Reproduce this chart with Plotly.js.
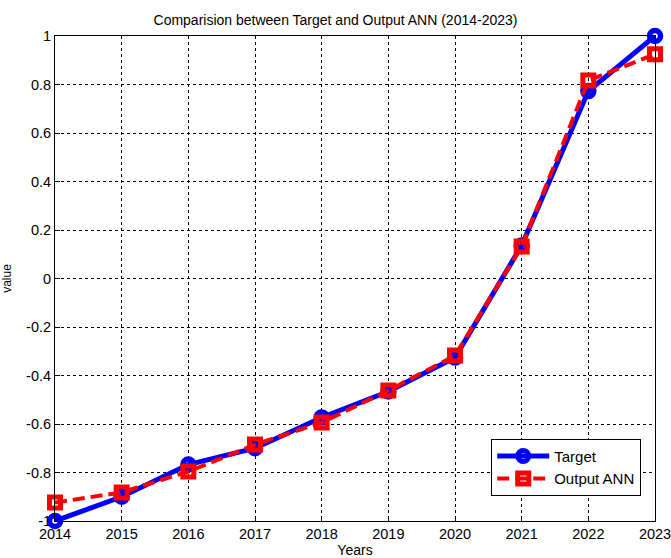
<!DOCTYPE html>
<html>
<head>
<meta charset="utf-8">
<script src="https://cdn.plot.ly/plotly-3.0.1.min.js"></script>
<style>html,body{margin:0;padding:0;background:#fff;}#chart{width:671px;height:558px;}</style>
</head>
<body>
<div id="chart"></div>
<script>
const years = [2014, 2015, 2016, 2017, 2018, 2019, 2020, 2021, 2022, 2023];
const target = [-1.0, -0.90, -0.767, -0.70, -0.573, -0.466, -0.326, 0.136, 0.773, 1.0];
const outputAnn = [-0.924, -0.882, -0.796, -0.685, -0.594, -0.462, -0.318, 0.132, 0.816, 0.925];
const yTicks = [-1, -0.8, -0.6, -0.4, -0.2, 0, 0.2, 0.4, 0.6, 0.8, 1];
const yTickText = ['-1', '-0.8', '-0.6', '-0.4', '-0.2', '0', '0.2', '0.4', '0.6', '0.8', '1'];

const FONT = 'Liberation Sans, Arial, sans-serif';

const data = [
  {
    x: years, y: target, name: 'Target', type: 'scatter', mode: 'lines+markers',
    line: {color: '#0000ff', width: 5},
    marker: {symbol: 'circle-open', size: 11, color: '#0000ff', line: {color: '#0000ff', width: 5.5}},
    cliponaxis: false
  },
  {
    x: years, y: outputAnn, name: 'Output ANN', type: 'scatter', mode: 'lines+markers',
    line: {color: '#ff0000', width: 4, dash: '12px,6px'},
    marker: {symbol: 'square-open', size: 11, color: '#ff0000', line: {color: '#ff0000', width: 5}},
    cliponaxis: false
  }
];

const axisCommon = {
  showline: true, linecolor: '#000', linewidth: 1, mirror: true,
  ticks: 'inside', ticklen: 5, tickcolor: '#000',
  showgrid: true, gridcolor: '#000', gridwidth: 1, griddash: '3px,3px',
  zeroline: false, ticklabeloverflow: 'allow',
  tickfont: {family: FONT, size: 14.5, color: '#000'}
};

const layout = {
  width: 671, height: 558,
  margin: {l: 55, r: 16, t: 36, b: 37},
  paper_bgcolor: '#fff', plot_bgcolor: '#fff',
  title: {text: 'Comparision between Target and Output ANN (2014-2023)',
    font: {family: FONT, size: 14, color: '#000'},
    x: 0.5, xanchor: 'center', y: 1, yref: 'paper', yanchor: 'bottom', pad: {b: 11}},
  xaxis: Object.assign({}, axisCommon, {
    range: [2014, 2023], tickvals: years, ticktext: years.map(String),
    title: {text: 'Years', font: {family: FONT, size: 14, color: '#000'}, standoff: 2}
  }),
  yaxis: Object.assign({}, axisCommon, {
    range: [-1, 1], tickvals: yTicks, ticktext: yTickText,
    title: {text: 'value', font: {family: FONT, size: 12, color: '#000'}, standoff: 14}
  }),
  showlegend: true,
  legend: {x: 0.977, xanchor: 'right', y: 0.052, yanchor: 'bottom',
    bgcolor: '#fff', bordercolor: '#000', borderwidth: 1,
    font: {family: FONT, size: 15, color: '#000'},
    itemwidth: 52, tracegroupgap: 0}
};

Plotly.newPlot('chart', data, layout, {displayModeBar: false, staticPlot: true});
</script>
</body>
</html>
